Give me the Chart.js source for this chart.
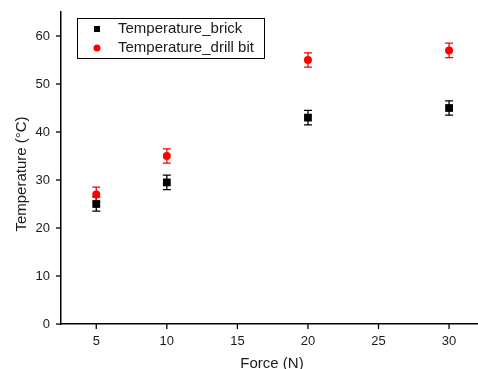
<!DOCTYPE html>
<html><head><meta charset="utf-8">
<script src="https://cdn.jsdelivr.net/npm/chart.js@4/dist/chart.umd.min.js"></script>
<style>html,body{margin:0;padding:0;background:#fff}canvas{display:block}</style>
</head><body>
<canvas id="c" width="478" height="369"></canvas>
<script>
const forces = [5, 10, 20, 30];
const brickTemps = [25, 29.5, 43, 45];
const brickErrors = [1.5, 1.5, 1.5, 1.5];
const drillTemps = [27, 35, 55, 57];
const drillErrors = [1.5, 1.5, 1.5, 1.5];
const seriesNames = ['Temperature_brick', 'Temperature_drill bit'];
const xTickLabels = [5, 10, 15, 20, 25, 30];
const xMinorTicks = [2.5, 7.5, 12.5, 17.5, 22.5, 27.5];
const yTickLabels = [0, 10, 20, 30, 40, 50, 60];
const yMinorTicks = [5, 15, 25, 35, 45, 55, 65];
const xTitle = 'Force (N)';
const yTitle = 'Temperature (°C)';

const FONT = '"Liberation Sans", Arial, sans-serif';
const TXT = '#1a1a1a';

function pts(xs, ys) { return xs.map((x, i) => ({x: x, y: ys[i]})); }

const errorBars = {
  id: 'errorBars',
  beforeDatasetsDraw(chart) {
    const {ctx, scales: {x, y}} = chart;
    chart.data.datasets.forEach(ds => {
      ctx.save();
      ctx.strokeStyle = ds.borderColor;
      ctx.lineWidth = 1.3;
      ds.data.forEach((p, j) => {
        const e = ds.errors[j];
        const px = x.getPixelForValue(p.x);
        const t = y.getPixelForValue(p.y + e);
        const b = y.getPixelForValue(p.y - e);
        ctx.beginPath();
        ctx.moveTo(px, t); ctx.lineTo(px, b);
        ctx.moveTo(px - 4, t); ctx.lineTo(px + 4, t);
        ctx.moveTo(px - 4, b); ctx.lineTo(px + 4, b);
        ctx.stroke();
      });
      ctx.restore();
    });
  }
};

const decorations = {
  id: 'decorations',
  afterDraw(chart) {
    const {ctx, scales: {x, y}, chartArea: ca} = chart;
    ctx.save();
    ctx.strokeStyle = '#000';
    ctx.lineWidth = 1.3;
    x.ticks.forEach(t => {
      const px = x.getPixelForValue(t.value);
      const len = xTickLabels.includes(t.value) ? 5 : 3;
      ctx.beginPath(); ctx.moveTo(px, ca.bottom); ctx.lineTo(px, ca.bottom + len); ctx.stroke();
    });
    y.ticks.forEach(t => {
      const py = y.getPixelForValue(t.value);
      const len = yTickLabels.includes(t.value) ? 5 : 3;
      ctx.beginPath(); ctx.moveTo(ca.left, py); ctx.lineTo(ca.left - len, py); ctx.stroke();
    });
    ctx.fillStyle = TXT;
    ctx.font = '15px ' + FONT;
    ctx.textAlign = 'center';
    ctx.textBaseline = 'alphabetic';
    ctx.fillText(xTitle, 272, 367.5);
    ctx.save();
    ctx.translate(25.5, 174);
    ctx.rotate(-Math.PI / 2);
    ctx.fillText(yTitle, 0, 0);
    ctx.restore();
    ctx.lineWidth = 1;
    ctx.strokeStyle = '#000';
    ctx.strokeRect(77.5, 18.5, 187, 40);
    const rows = [29, 48];
    chart.data.datasets.forEach((ds, i) => {
      const cy = rows[i];
      ctx.fillStyle = ds.backgroundColor;
      if (ds.pointStyle === 'rect') {
        ctx.fillRect(94, cy - 3, 6, 6);
      } else {
        ctx.beginPath(); ctx.arc(97, cy, 3.5, 0, Math.PI * 2); ctx.fill();
      }
      ctx.fillStyle = TXT;
      ctx.font = '15px ' + FONT;
      ctx.textAlign = 'left';
      ctx.textBaseline = 'middle';
      ctx.fillText(seriesNames[i], 118, cy);
    });
    ctx.restore();
  }
};

function zeroPad(s) { s.paddingTop = 0; s.paddingBottom = 0; s.paddingLeft = 0; s.paddingRight = 0; }

new Chart(document.getElementById('c'), {
  type: 'scatter',
  data: {
    datasets: [
      {label: seriesNames[0], data: pts(forces, brickTemps), errors: brickErrors,
       pointStyle: 'rect', pointRadius: 5.5, pointHoverRadius: 5.5,
       backgroundColor: '#000000', borderColor: '#000000', borderWidth: 0},
      {label: seriesNames[1], data: pts(forces, drillTemps), errors: drillErrors,
       pointStyle: 'circle', pointRadius: 4, pointHoverRadius: 4,
       backgroundColor: '#ff0000', borderColor: '#ff0000', borderWidth: 0}
    ]
  },
  options: {
    responsive: false,
    devicePixelRatio: 1,
    animation: false,
    events: [],
    layout: {autoPadding: false, padding: {top: 12, right: 0, left: 0, bottom: 0}},
    plugins: {legend: {display: false}, tooltip: {enabled: false}},
    scales: {
      x: {
        type: 'linear', min: 2.5, max: 32.05,
        afterBuildTicks: s => { s.ticks = xMinorTicks.concat(xTickLabels).sort((a, b) => a - b).map(v => ({value: v})); },
        afterFit: s => { s.height = 45; zeroPad(s); },
        grid: {display: false, drawTicks: false},
        border: {display: true, color: '#000', width: 1.5},
        ticks: {
          padding: 10, color: TXT, font: {family: FONT, size: 13},
          autoSkip: false, maxRotation: 0,
          callback: v => xTickLabels.includes(v) ? String(v) : null
        }
      },
      y: {
        type: 'linear', min: 0, max: 65,
        afterBuildTicks: s => { s.ticks = yMinorTicks.concat(yTickLabels).sort((a, b) => a - b).map(v => ({value: v})); },
        afterFit: s => { s.width = 61; zeroPad(s); },
        grid: {display: false, drawTicks: false},
        border: {display: true, color: '#000', width: 1.5},
        ticks: {
          padding: 11, color: TXT, font: {family: FONT, size: 13},
          autoSkip: false,
          callback: v => yTickLabels.includes(v) ? String(v) : null
        }
      }
    }
  },
  plugins: [errorBars, decorations]
});
</script>
</body></html>
